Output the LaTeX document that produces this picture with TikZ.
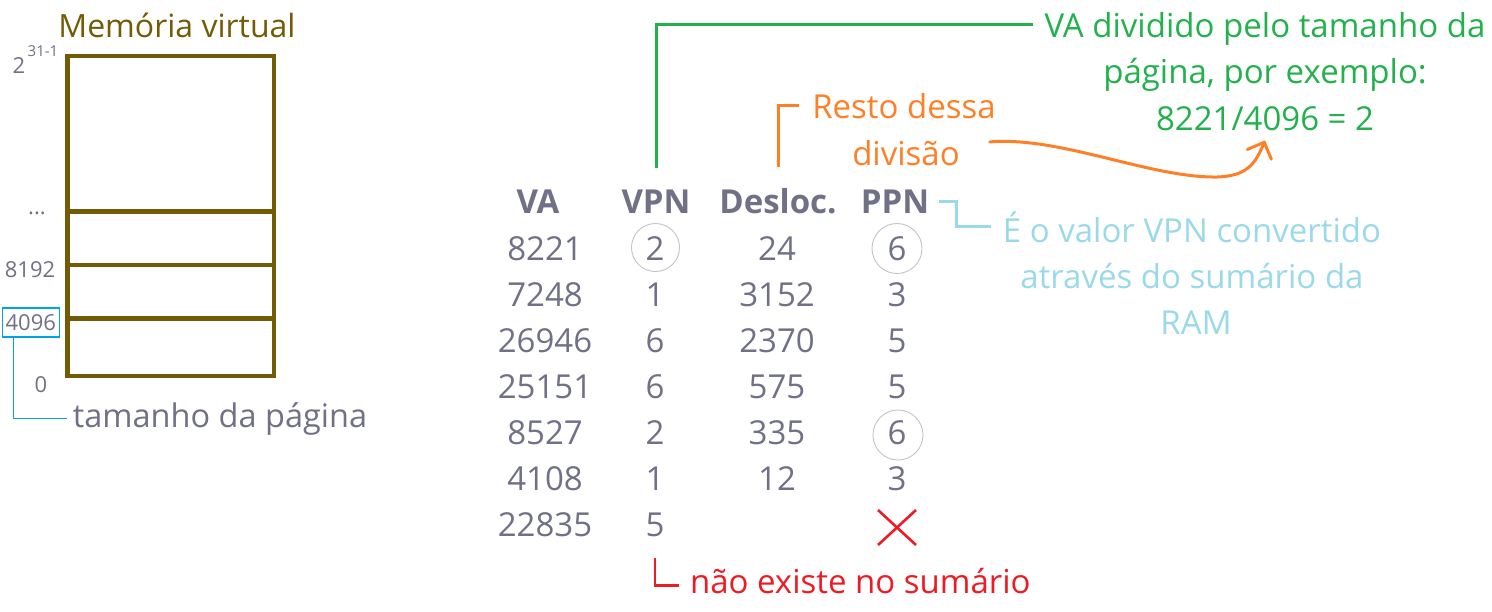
\documentclass[tikz,border=0pt]{standalone}
\usepackage{fontspec}
\setmainfont{Open Sans}
\usetikzlibrary{arrows.meta,shapes.misc}
\definecolor{txtgray}{RGB}{112,112,135}
\definecolor{membrown}{RGB}{115,90,5}
\definecolor{grn}{RGB}{34,177,76}
\definecolor{orng}{RGB}{255,127,39}
\definecolor{lblue}{RGB}{153,217,234}
\definecolor{boxblue}{RGB}{0,162,232}
\definecolor{rd}{RGB}{237,28,36}
\definecolor{ringgray}{RGB}{195,195,195}
\tikzset{
  every node/.style={inner sep=0pt, outer sep=0pt},
  cell/.style={anchor=base, text=txtgray, font=\fontsize{33}{40}\selectfont},
  head/.style={anchor=base, text=txtgray, font=\fontsize{33}{40}\selectfont\bfseries},
  small/.style={anchor=base, text=txtgray, font=\fontsize{22}{26}\selectfont},
  note/.style={anchor=base, font=\fontsize{33}{40}\selectfont},
  ring/.style={circle, draw=ringgray, line width=0.9pt, minimum size=48pt},
  memline/.style={draw=membrown, line width=4.2pt},
  grline/.style={draw=grn, line width=3pt},
  orline/.style={draw=orng, line width=3pt},
  blline/.style={draw=lblue, line width=3pt},
  rdline/.style={draw=rd, line width=2.6pt},
}
\begin{document}
\begin{tikzpicture}[x=1pt,y=-1pt]
\useasboundingbox (0,0) rectangle (1492,611);

% ---------------- memory column ----------------
\node[note, text=membrown, font=\fontsize{32}{36}\selectfont] (memtitle) at (177,37) {Memória virtual};
\draw[memline] (67.5,56.3) rectangle (274,376);
\draw[memline] (67.5,211.5) -- (274,211.5);
\draw[memline] (67.5,265) -- (274,265);
\draw[memline] (67.5,318.5) -- (274,318.5);

\node[small] (two) at (19,73) {2};
\node[small, font=\fontsize{15}{18}\selectfont] (exp) at (43,56) {31-1};
\node[small] (dots) at (37,214) {...};
\node[small] (l8192) at (30,277) {8192};
\node[small, anchor=center, draw=boxblue, line width=1.2pt, minimum width=57pt, minimum height=29pt] (l4096) at (30.8,322.5) {4096};
\node[small] (lzero) at (41,392) {0};
\node[note, text=txtgray, font=\fontsize{32.5}{38}\selectfont] (tam) at (220,427) {tamanho da página};
\draw[draw=boxblue, line width=1.2pt] ([xshift=11pt]l4096.south west) |- ([xshift=-6pt]tam.west);

% ---------------- table ----------------
\node[head] (hVA)  at (538,213) {VA};
\node[head] (hVPN) at (656,213) {VPN};
\node[head] (hDes) at (778,213) {Desloc.};
\node[head] (hPPN) at (895,213) {PPN};

\node[cell] (a1) at (545,260) {8221};
\node[cell] (a2) at (545,306) {7248};
\node[cell] (a3) at (545,352) {26946};
\node[cell] (a4) at (545,398) {25151};
\node[cell] (a5) at (545,444) {8527};
\node[cell] (a6) at (545,490) {4108};
\node[cell] (a7) at (545,536) {22835};

\node[cell] (v1) at (655,260) {2};
\node[cell] (v2) at (655,306) {1};
\node[cell] (v3) at (655,352) {6};
\node[cell] (v4) at (655,398) {6};
\node[cell] (v5) at (655,444) {2};
\node[cell] (v6) at (655,490) {1};
\node[cell] (v7) at (655,536) {5};

\node[cell] (d1) at (777,260) {24};
\node[cell] (d2) at (777,306) {3152};
\node[cell] (d3) at (777,352) {2370};
\node[cell] (d4) at (777,398) {575};
\node[cell] (d5) at (777,444) {335};
\node[cell] (d6) at (777,490) {12};

\node[cell] (p1) at (897,260) {6};
\node[cell] (p2) at (897,306) {3};
\node[cell] (p3) at (897,352) {5};
\node[cell] (p4) at (897,398) {5};
\node[cell] (p5) at (897,444) {6};
\node[cell] (p6) at (897,490) {3};
\node[cross out, draw=rd, line width=2.6pt, minimum width=38pt, minimum height=35pt] (p7) at (897,527.5) {};

\node[ring] (cv1) at (655.5,247.5) {};
\node[ring, minimum size=50pt] (cp1) at (897,248.5) {};
\node[ring, minimum size=50pt] (cp5) at (898,435) {};

% ---------------- green note ----------------
\node[note, text=grn] (g1) at (1265,37) {VA dividido pelo tamanho da};
\node[note, text=grn] (g2) at (1265,83.5) {página, por exemplo:};
\node[note, text=grn] (g3) at (1265,130) {8221/4096 = 2};
\draw[grline] ([yshift=21pt]hVPN.north) |- ([xshift=-12pt,yshift=4pt]g1.west);

% ---------------- orange note ----------------
\node[note, text=orng] (o1) at (904,118) {Resto dessa};
\node[note, text=orng] (o2) at (906,165) {divisão};
\draw[orline] ([yshift=21pt]hDes.north) |- ([xshift=-13pt]o1.west);
\draw[orline, line cap=round, -{Straight Barb[length=13pt,width=26pt,line cap=round]}]
  ([xshift=30pt,yshift=-2pt]o2.north east) .. controls (1060,136) and (1150,178) .. (1217,177)
  .. controls (1246,176) and (1255,165) .. ([yshift=-10pt]g3.south);

% ---------------- light blue note ----------------
\node[note, text=lblue] (b1) at (1192,242) {É o valor VPN convertido};
\node[note, text=lblue] (b2) at (1192,288) {através do sumário da};
\node[note, text=lblue] (b3) at (1196,334) {RAM};
\draw[blline] ([xshift=10pt]hPPN.east) -- ++(17,0) |- ([xshift=-12pt]b1.west);

% ---------------- red note ----------------
\node[note, text=rd, anchor=base west] (r1) at (690,593) {não existe no sumário};
\draw[rdline] ([yshift=-22pt]v7.south) |- ([xshift=-11pt,yshift=-5pt]r1.west);
\end{tikzpicture}
\end{document}
